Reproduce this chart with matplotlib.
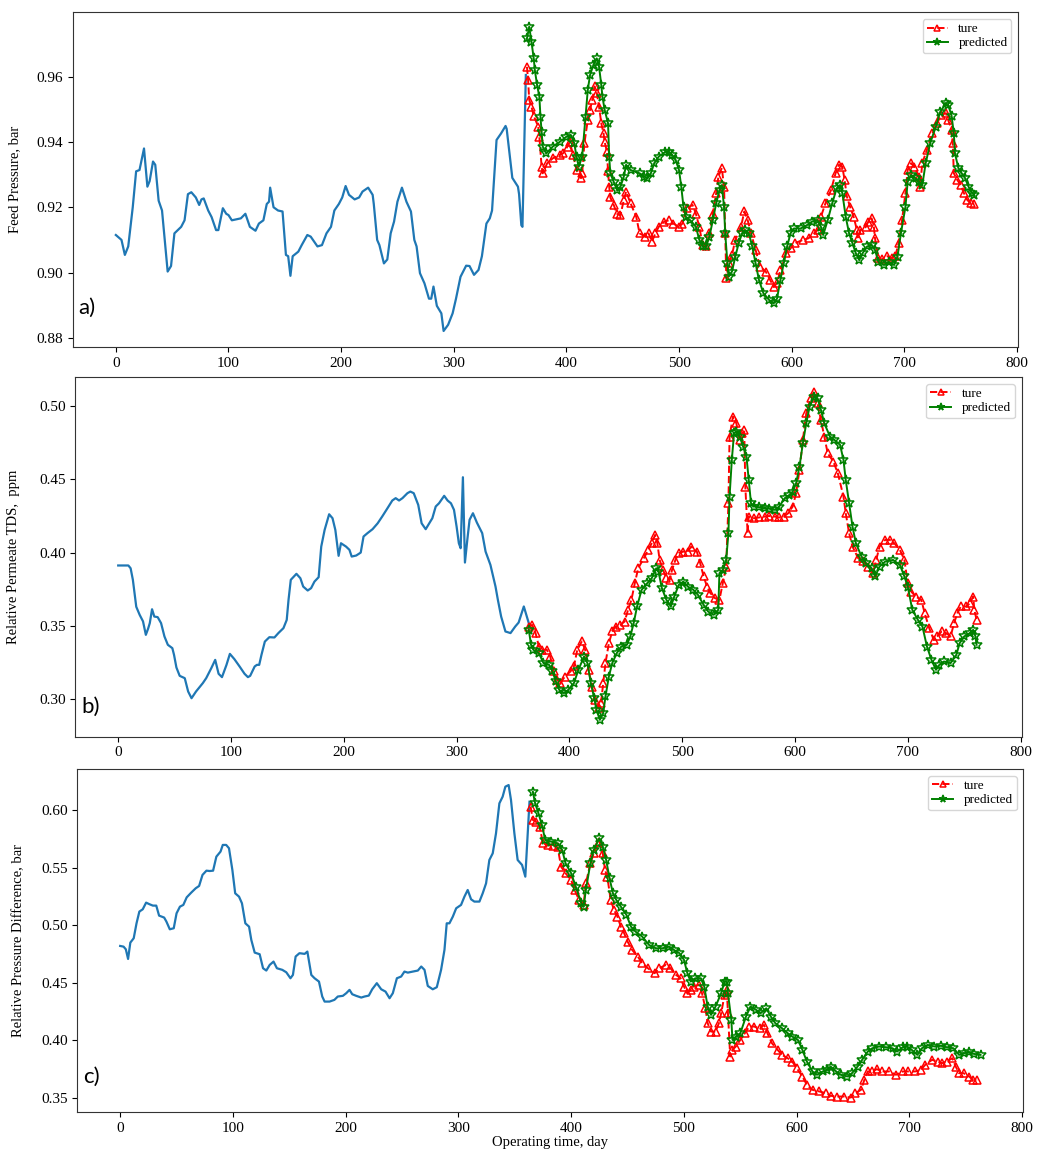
import matplotlib
matplotlib.use('Agg')
import matplotlib.pyplot as plt
import numpy as np

plt.rcParams['font.family'] = ['Liberation Serif', 'DejaVu Serif']

### a) feed pressure
feed_hist = [(0,0.9115),(5,0.910),(8,0.9054),(11,0.908),(15,0.920),(18,0.931),(21,0.9314),(25,0.938),(28,0.9263),(30,0.928),
             (33,0.934),(35,0.933),(38,0.922),(41,0.919),(46,0.9003),(49,0.902),(52,0.912),(58,0.914),(61,0.916),(64,0.924),
             (67,0.9246),(71,0.923),(74,0.9207),(76,0.9224),(78,0.9227),(82,0.919),(85,0.917),(89,0.913),(91,0.913),(95,0.9197),
             (98,0.918),(100,0.9176),(103,0.916),(107,0.9163),(111,0.9166),(115,0.918),(119,0.914),(124,0.9128),(127,0.915),(131,0.916),
             (134,0.921),(136,0.9217),(137,0.926),(140,0.920),(144,0.919),(148,0.9187),(151,0.9054),(153,0.905),(155,0.899),(157,0.905),
             (162,0.9064),(165,0.9084),(170,0.9115),(173,0.911),(179,0.908),(183,0.9084),(187,0.912),(191,0.914),(194,0.919),(198,0.921),
             (201,0.923),(204,0.9265),(207,0.9238),(212,0.9224),(216,0.923),(219,0.9248),(224,0.926),(228,0.9238),(229,0.921),(232,0.910),
             (234,0.9084),(238,0.9028),(241,0.904),(244,0.912),(247,0.9156),(250,0.9217),(254,0.926),(258,0.9217),(262,0.9187),(265,0.910),
             (267,0.908),(270,0.8998),(274,0.8967),(278,0.892),(280,0.892),(282,0.8957),(285,0.8898),(289,0.8875),(291,0.8821),(295,0.884),
             (299,0.8875),(302,0.892),(306,0.8987),(311,0.9021),(314,0.902),(318,0.8993),(322,0.9008),(325,0.905),(329,0.915),(332,0.9166),
             (334,0.919),(338,0.9406),(342,0.9426),(346,0.9449),(347,0.944),(352,0.929),(357,0.9263),(358,0.924),(360,0.9145),(361,0.914),
             (364,0.9605)]
feed_true = [(365,0.963),(366,0.959),(367,0.9529),(369,0.9508),(371,0.948),(375,0.9447),(376,0.9416),(378,0.9324),(379,0.9304),(383,0.9335),
             (388,0.935),(394,0.936),(397,0.9365),(401,0.9386),(403,0.940),(406,0.936),(409,0.9314),(413,0.9289),(414,0.9304),(416,0.9396),
             (419,0.9467),(421,0.9498),(423,0.9529),(425,0.957),(427,0.955),(429,0.9508),(431,0.9457),(433,0.9426),(434,0.940),(436,0.937),
             (437,0.931),(438,0.9263),(439,0.923),(442,0.9207),(445,0.918),(448,0.9176),(451,0.9222),(453,0.9248),(457,0.9212),(462,0.9171),
             (465,0.912),(470,0.911),(473,0.912),(476,0.9095),(479,0.912),(482,0.914),(487,0.9156),(491,0.916),(495,0.915),(500,0.914),
             (503,0.915),(507,0.9197),(512,0.9207),(515,0.918),(518,0.914),(521,0.9084),(524,0.908),(527,0.912),(530,0.918),(533,0.9243),
             (535,0.9294),(538,0.932),(540,0.9263),(541,0.912),(542,0.8982),(544,0.9028),(547,0.9054),(550,0.910),(555,0.914),(558,0.9187),
             (561,0.916),(564,0.912),(568,0.9069),(572,0.9018),(577,0.9003),(581,0.8977),(584,0.8957),(587,0.8967),(590,0.9008),(595,0.9059),
             (599,0.9074),(603,0.909),(610,0.910),(615,0.9105),(620,0.912),(623,0.913),(626,0.9171),(630,0.9212),(635,0.9253),(639,0.9304),
             (642,0.933),(645,0.9324),(647,0.9284),(649,0.9233),(652,0.920),(655,0.9171),(658,0.913),(659,0.9105),(661,0.913),(666,0.914),
             (668,0.9156),(671,0.9166),(673,0.914),(674,0.9105),(677,0.9044),(680,0.904),(685,0.905),(689,0.9044),(692,0.905),(695,0.909),
             (698,0.916),(701,0.9243),(703,0.9314),(706,0.9335),(709,0.9324),(713,0.9294),(714,0.9263),(716,0.9335),(720,0.9375),(725,0.9426),
             (729,0.9457),(733,0.9483),(737,0.9488),(739,0.9467),(742,0.9437),(743,0.9396),(744,0.9304),(747,0.9284),(750,0.9268),(753,0.9243),
             (756,0.9222),(759,0.9212),(762,0.921)]
feed_pred = [(365,0.9717),(367,0.9753),(369,0.9707),(371,0.9656),(372,0.962),(374,0.9574),(376,0.9539),(377,0.9477),(378,0.9431),(379,0.9386),
             (382,0.9365),(388,0.9386),(394,0.940),(400,0.9416),(404,0.9421),(407,0.9396),(409,0.9355),(411,0.9324),(414,0.9355),(417,0.9477),
             (419,0.9559),(421,0.9605),(424,0.9636),(427,0.9656),(429,0.9631),(431,0.9574),(432,0.9539),(434,0.9498),(437,0.9457),(438,0.9355),
             (439,0.9304),(442,0.9278),(445,0.9253),(448,0.9263),(451,0.9294),(453,0.933),(457,0.9314),(465,0.9304),(469,0.9294),(472,0.9289),
             (475,0.9304),(478,0.9335),(482,0.9355),(488,0.937),(491,0.937),(494,0.936),(497,0.9345),(500,0.9314),(502,0.9263),(504,0.920),
             (506,0.9171),(510,0.916),(515,0.914),(518,0.910),(521,0.908),(524,0.908),(527,0.911),(530,0.916),(533,0.9212),(536,0.9253),
             (538,0.9268),(540,0.920),(541,0.912),(543,0.9028),(544,0.8987),(547,0.9003),(550,0.9049),(553,0.909),(556,0.912),(559,0.913),
             (562,0.912),(565,0.908),(568,0.9028),(571,0.8977),(575,0.8936),(580,0.8916),(584,0.8906),(587,0.892),(590,0.8977),(593,0.9028),
             (596,0.908),(599,0.912),(602,0.9135),(608,0.9135),(614,0.9146),(618,0.9156),(623,0.916),(626,0.914),(628,0.9115),(632,0.916),
             (636,0.9212),(640,0.9258),(643,0.9268),(645,0.9243),(648,0.9171),(651,0.912),(654,0.909),(657,0.9059),(660,0.9038),(663,0.9059),
             (667,0.908),(671,0.9084),(674,0.9069),(677,0.9033),(682,0.9023),(686,0.9033),(691,0.9023),(694,0.9049),(697,0.912),(701,0.920),
             (703,0.9278),(706,0.9299),(710,0.9289),(713,0.9278),(716,0.9268),(719,0.9335),(723,0.9396),(728,0.9447),(732,0.9493),(737,0.9518),
             (739,0.9513),(742,0.948),(744,0.9426),(745,0.9365),(748,0.932),(751,0.9304),(754,0.9289),(757,0.9263),(760,0.9245),(762,0.9238)]

### b) permeate TDS
tds_hist = [(0,0.3912),(9,0.3912),(11,0.3893),(13,0.3814),(16,0.363),(19,0.3575),(22,0.353),(24.5,0.3438),(26.5,0.348),(28,0.3518),
            (30,0.3613),(32,0.3563),(35,0.3559),(38,0.3518),(41,0.3427),(44,0.337),(48,0.3347),(49.5,0.3301),(51.6,0.3215),(54.5,0.3158),
            (59,0.3142),(62,0.3051),(65,0.3005),(69,0.3051),(75,0.3108),(78,0.3142),(82.5,0.321),(86,0.3267),(89,0.3172),(92,0.3149),
            (96,0.3233),(99,0.3308),(103,0.3272),(107.6,0.3222),(112,0.3172),(115,0.3149),(117,0.3158),(121,0.3222),(123,0.3233),(125,0.3233),
            (127,0.3301),(130,0.3392),(134,0.3422),(138.5,0.342),(142,0.345),(146.5,0.3484),(149.4,0.354),(151,0.3677),(153,0.3814),(158,0.3855),
            (161.5,0.3825),(164,0.3768),(168,0.3741),(171,0.3757),(174,0.3802),(177.7,0.3832),(180,0.4041),(183,0.4155),(187,0.4262),(190,0.4235),
            (192.5,0.4155),(195.4,0.3978),(197.5,0.4064),(202,0.4041),(205,0.4019),(207,0.3973),(211,0.398),(215,0.40),(217.5,0.411),(221,0.4133),
            (225.5,0.416),(230,0.420),(234,0.4246),(238.7,0.4303),(243,0.4356),(246,0.4372),(249,0.4356),(252,0.4372),(256.4,0.4406),(259,0.4417),
            (262,0.4406),(266,0.4326),(269,0.420),(272.6,0.416),(278.5,0.4235),(281.5,0.4315),(284.4,0.4337),(289,0.4388),(292,0.4356),(295,0.4337),
            (297.7,0.4292),(300,0.4178),(302,0.4064),(303.6,0.403),(305.6,0.4515),(307.4,0.3932),(309.5,0.4087),(311.5,0.4224),(314.5,0.4269),(318,0.4205),
            (322.7,0.4133),(325.7,0.4007),(330,0.3916),(334.5,0.3768),(336.6,0.3677),(339.5,0.3563),(343.3,0.3461),(347.8,0.345),(352,0.3495),(355,0.3522),
            (359.6,0.3632),(364,0.3518)]
tds_true = [(364,0.3495),(367,0.3506),(370,0.345),(373,0.3358),(376,0.3336),(380,0.3336),(383,0.329),(386,0.3188),(389,0.3131),(392,0.3108),
            (396,0.3153),(401,0.3188),(404,0.3222),(407,0.3336),(411,0.3393),(414,0.3336),(417,0.3199),(420,0.3085),(423,0.2994),(426,0.2937),
            (428,0.2971),(430,0.3108),(432,0.3245),(435,0.3381),(438,0.3461),(441,0.3495),(445,0.3506),(449,0.3529),(452,0.3609),(455,0.3677),
            (458,0.3791),(461,0.3893),(466,0.3962),(470,0.4019),(473,0.4064),(476,0.4121),(478,0.4064),(480,0.395),(483,0.3882),(486,0.3825),
            (489,0.3814),(491,0.3882),(494,0.395),(497,0.3996),(501,0.4007),(505,0.4007),(508,0.4041),(513,0.4007),(516,0.3927),(519,0.3837),
            (522,0.3768),(525,0.3723),(529,0.3689),(533,0.3677),(536,0.3791),(539,0.3905),(541,0.4337),(542,0.4793),(545,0.4929),(548,0.4884),
            (551,0.477),(553,0.4816),(555,0.4838),(556,0.4451),(558,0.4133),(559,0.4246),(564,0.4235),(568,0.424),(573,0.4246),(577,0.425),
            (582,0.4246),(586,0.424),(590,0.4246),(594,0.4269),(598,0.4315),(601,0.4406),(604,0.4565),(607,0.477),(610,0.4952),(614,0.5055),
            (617,0.51),(620,0.502),(623,0.4907),(626,0.4793),(629,0.4679),(634,0.4622),(638,0.4542),(643,0.4383),(645,0.4269),(648,0.4133),
            (651,0.4041),(656,0.3962),(660,0.394),(665,0.3905),(669,0.3859),(672,0.395),(675,0.4041),(680,0.4087),(684,0.4087),(688,0.4064),
            (693,0.4019),(697,0.395),(700,0.3791),(703,0.3734),(707,0.37),(712,0.3677),(715,0.3586),(719,0.3484),(723,0.3404),(726,0.3427),
            (730,0.3461),(734,0.345),(738,0.3427),(741,0.3518),(744,0.3586),(747,0.3632),(752,0.3632),(755,0.3654),(758,0.37),(759,0.3609),
            (761,0.354)]
tds_pred = [(364,0.3472),(366,0.337),(368,0.3336),(373,0.3313),(377,0.3245),(382,0.3233),(385,0.3188),(388,0.312),(391,0.3062),(395,0.304),
            (399,0.3062),(404,0.3108),(408,0.3199),(413,0.329),(416,0.3245),(419,0.3108),(422,0.3006),(424,0.2926),(427,0.2857),(430,0.2903),
            (432,0.3017),(435,0.3153),(438,0.3245),(442,0.3313),(446,0.3358),(451,0.337),(454,0.3427),(457,0.3518),(460,0.3632),(464,0.3745),
            (469,0.3791),(473,0.3825),(477,0.3893),(479,0.387),(482,0.3757),(486,0.3677),(490,0.3632),(493,0.37),(497,0.378),(501,0.3802),
            (505,0.3768),(510,0.3745),(514,0.3711),(519,0.3643),(523,0.3597),(528,0.3575),(532,0.3609),(533,0.3859),(536,0.3882),(539,0.395),
            (541,0.4133),(542,0.4383),(544,0.4633),(546,0.4816),(548,0.4827),(551,0.4793),(554,0.4724),(557,0.4656),(559,0.4497),(561,0.4337),
            (564,0.4315),(568,0.431),(573,0.4303),(577,0.43),(582,0.4292),(586,0.4315),(591,0.4372),(595,0.4394),(598,0.4417),(601,0.4474),
            (604,0.4588),(607,0.4747),(610,0.4884),(613,0.4998),(617,0.5066),(620,0.5055),(623,0.4975),(626,0.4884),(631,0.4793),(635,0.477),
            (640,0.4736),(643,0.4633),(645,0.4497),(648,0.4337),(651,0.4178),(654,0.4064),(659,0.3973),(663,0.3927),(668,0.3893),(671,0.3837),
            (675,0.3905),(680,0.3939),(687,0.395),(693,0.3916),(697,0.3837),(700,0.3768),(704,0.3609),(709,0.354),(713,0.3495),(717,0.3358),
            (721,0.3267),(725,0.3199),(728,0.3233),(732,0.3256),(738,0.3245),(743,0.3301),(746,0.3381),(750,0.3427),(755,0.345),(758,0.3472),
            (760,0.3427),(761,0.337)]

### c) pressure difference
dp_hist = [(0,0.482),(3,0.4814),(5,0.4791),(7,0.4707),(9,0.4849),(12,0.4887),(14.5,0.5017),(17,0.5119),(20,0.5139),(23,0.5197),
           (26,0.5183),(29,0.5171),(32,0.5171),(34.5,0.5084),(39,0.5067),(41,0.5032),(44,0.4965),(47.5,0.4974),(50,0.5104),(53,0.5162),
           (56,0.5177),(59,0.5243),(63,0.5284),(67,0.5322),(70,0.5342),(73,0.5438),(76.5,0.5475),(79.4,0.5472),(82.4,0.5475),(85.3,0.5597),
           (89,0.5641),(91,0.5699),(94,0.5699),(96.5,0.567),(99.5,0.5481),(102,0.5278),(105.4,0.5249),(108,0.5191),(111,0.5017),(114.3,0.4988),
           (116.3,0.4872),(119.3,0.4762),(123.7,0.4748),(126.7,0.4626),(129.6,0.4606),(132.6,0.4655),(136,0.4684),(139,0.4626),(143.8,0.4612),(147.3,0.4591),
           (151,0.4539),(153.2,0.4568),(155.6,0.4728),(159,0.4757),(163.6,0.4751),(166,0.4771),(169.5,0.4568),(172.4,0.4539),(176.3,0.451),(179.2,0.438),
           (181.3,0.4336),(185.7,0.4336),(190,0.4351),(193,0.438),(197.5,0.4386),(200.5,0.4409),(203.4,0.4438),(205.8,0.44),(209.3,0.4386),(213.8,0.4371),
           (216.7,0.438),(220.5,0.4388),(223.5,0.4443),(227.6,0.4496),(231.5,0.4443),(235.3,0.4423),(238.9,0.4365),(241.8,0.4409),(245.4,0.4539),(249.2,0.4554),
           (252.1,0.4597),(255.1,0.4588),(259.5,0.4597),(264,0.4606),(267,0.4641),(269.9,0.4612),(272.8,0.4472),(277.2,0.4443),(280.8,0.4461),(284.6,0.4612),
           (287.6,0.4786),(289.6,0.5017),(292,0.5017),(295,0.5075),(298,0.5148),(302.3,0.5177),(305.3,0.5249),(308.2,0.5307),(311.2,0.5226),(314.1,0.5206),
           (318.6,0.5206),(321.5,0.5278),(324.5,0.5365),(327.4,0.5568),(330.4,0.5626),(333.3,0.58),(336.3,0.6061),(339.2,0.6119),(341.6,0.6206),(344.5,0.622),
           (346.6,0.609),(349.6,0.58),(352.5,0.5568),(356.4,0.5525),(359.3,0.5423),(363,0.6075)]
dp_true = [(364,0.6032),(366,0.5916),(369,0.5901),(372,0.5858),(375,0.5713),(379,0.5699),(384,0.569),(388,0.5678),(391,0.551),(395,0.5452),
           (400,0.5394),(403,0.5307),(407,0.522),(411,0.5177),(413,0.5365),(417,0.5539),(420,0.5626),(425,0.5728),(428,0.5626),(430,0.5481),
           (432,0.5423),(435,0.522),(438,0.5133),(441,0.5075),(444,0.4988),(447,0.493),(450,0.4858),(454,0.4786),(459,0.4728),(463,0.467),
           (468,0.4626),(474,0.4583),(478,0.4626),(484,0.4655),(488,0.4626),(493,0.4568),(497,0.4539),(500,0.4467),(503,0.4409),(506,0.4438),
           (509,0.4467),(513,0.4481),(516,0.4409),(519,0.4278),(521,0.4148),(524,0.4075),(528,0.4075),(531,0.4148),(533,0.4235),(536,0.4394),
           (538,0.4438),(539,0.4235),(541,0.3858),(543,0.3916),(546,0.3945),(550,0.4003),(554,0.4061),(558,0.4119),(562,0.4119),(567,0.4104),
           (571,0.4133),(574,0.4061),(578,0.3974),(583,0.3916),(587,0.3872),(592,0.3843),(596,0.3814),(600,0.3757),(605,0.3684),(609,0.3612),
           (614,0.3568),(620,0.3554),(626,0.3539),(630,0.3516),(636,0.351),(642,0.351),(648,0.3501),(652,0.3539),(657,0.3568),(660,0.3655),
           (663,0.3728),(667,0.3728),(671,0.3748),(676,0.3728),(682,0.3728),(688,0.3699),(694,0.3728),(699,0.3728),(705,0.3728),(710,0.3742),
           (714,0.3786),(720,0.3829),(725,0.3814),(729,0.38),(733,0.3814),(738,0.3843),(741,0.3771),(744,0.3713),(748,0.3713),(753,0.3684),
           (756,0.3655),(760,0.3655)]
dp_pred = [(366,0.6162),(368,0.6061),(371,0.5974),(374,0.5872),(377,0.5742),(382,0.5728),(388,0.5713),(392,0.5655),(395,0.5539),(400,0.5452),
           (404,0.5336),(409,0.5191),(411,0.5162),(413,0.5307),(417,0.5539),(420,0.5655),(425,0.5757),(428,0.5684),(431,0.5568),(434,0.5409),
           (437,0.5278),(440,0.522),(444,0.5162),(449,0.509),(453,0.4988),(457,0.4945),(463,0.4901),(469,0.4829),(475,0.48),(481,0.48),
           (487,0.4814),(491,0.4786),(496,0.4757),(500,0.4699),(503,0.4583),(506,0.451),(510,0.4539),(515,0.4539),(518,0.4467),(521,0.4293),
           (524,0.422),(528,0.4293),(533,0.4409),(536,0.451),(538,0.451),(539,0.4409),(542,0.4177),(543,0.4003),(546,0.4032),(550,0.4061),
           (555,0.4206),(559,0.4293),(564,0.4264),(568,0.4235),(573,0.4278),(577,0.4206),(581,0.4148),(587,0.4104),(592,0.4061),(596,0.4032),
           (601,0.4003),(605,0.3916),(609,0.3814),(614,0.3728),(618,0.3699),(623,0.3728),(627,0.3742),(630,0.3771),(635,0.3728),(639,0.3699),
           (645,0.3684),(649,0.3713),(654,0.3771),(658,0.3829),(663,0.3901),(667,0.393),(673,0.3945),(679,0.3939),(685,0.393),(689,0.3901),
           (694,0.3939),(698,0.3945),(702,0.3916),(707,0.3872),(711,0.393),(716,0.3959),(722,0.3945),(728,0.3951),(733,0.3939),(739,0.393),
           (744,0.3872),(748,0.3887),(753,0.3893),(757,0.3881),(763,0.3872)]

ylabels = ['Feed Pressure, bar', 'Relative Permeate TDS,  ppm', 'Relative Pressure Difference, bar']
panel_tags = ['a)', 'b)', 'c)']

# axes rectangles (left, bottom, width, height) in figure fractions
rects = [(0.0699, 0.6988, 0.9043, 0.2905),
         (0.0721, 0.3605, 0.9056, 0.3120),
         (0.0740, 0.0345, 0.9053, 0.2977)]
ylims = [(0.8772, 0.9797), (0.2742, 0.5198), (0.3373, 0.6357)]
yticks = [[0.88, 0.90, 0.92, 0.94, 0.96],
          [0.30, 0.35, 0.40, 0.45, 0.50],
          [0.35, 0.40, 0.45, 0.50, 0.55, 0.60]]
ylab_x = [-0.055, -0.058, -0.055]
tag_y = [0.10, 0.066, 0.085]

fig = plt.figure(figsize=(10.45, 11.52), dpi=100)

panels = [(feed_hist, feed_true, feed_pred),
          (tds_hist, tds_true, tds_pred),
          (dp_hist, dp_true, dp_pred)]

for i, (hist, true, pred) in enumerate(panels):
    ax = fig.add_axes(rects[i])
    hx, hy = np.array(hist).T
    tx, ty = np.array(true).T
    px, py = np.array(pred).T
    ax.plot(hx, hy, color='#1f77b4', lw=1.6)
    ax.plot(tx, ty, color='red', ls='--', lw=1.4, marker='^', ms=6,
            mfc='none', mew=1.1, label='ture')
    ax.plot(px, py, color='green', ls='-', lw=1.4, marker='*', ms=7,
            mfc='none', mew=1.1, label='predicted')
    ax.set_xlim(-38, 801)
    ax.set_ylim(*ylims[i])
    ax.set_xticks([0, 100, 200, 300, 400, 500, 600, 700, 800])
    ax.set_yticks(yticks[i])
    ax.set_yticklabels(['%.2f' % v for v in yticks[i]])
    ax.tick_params(labelsize=11)
    ax.set_ylabel(ylabels[i], fontsize=10.5)
    ax.yaxis.set_label_coords(ylab_x[i], 0.5)
    for s in ax.spines.values():
        s.set_color('#333333')
    ax.legend(loc='upper right', fontsize=9.5, handlelength=1.6,
              borderpad=0.3, labelspacing=0.15, markerscale=0.8)
    ax.text(0.006, tag_y[i], panel_tags[i], transform=ax.transAxes,
            fontsize=16, family=['Lato', 'DejaVu Sans'], va='baseline')
    if i == 2:
        ax.set_xlabel('Operating time, day', fontsize=10.5, labelpad=1)

fig.savefig('out.png', dpi=100)
